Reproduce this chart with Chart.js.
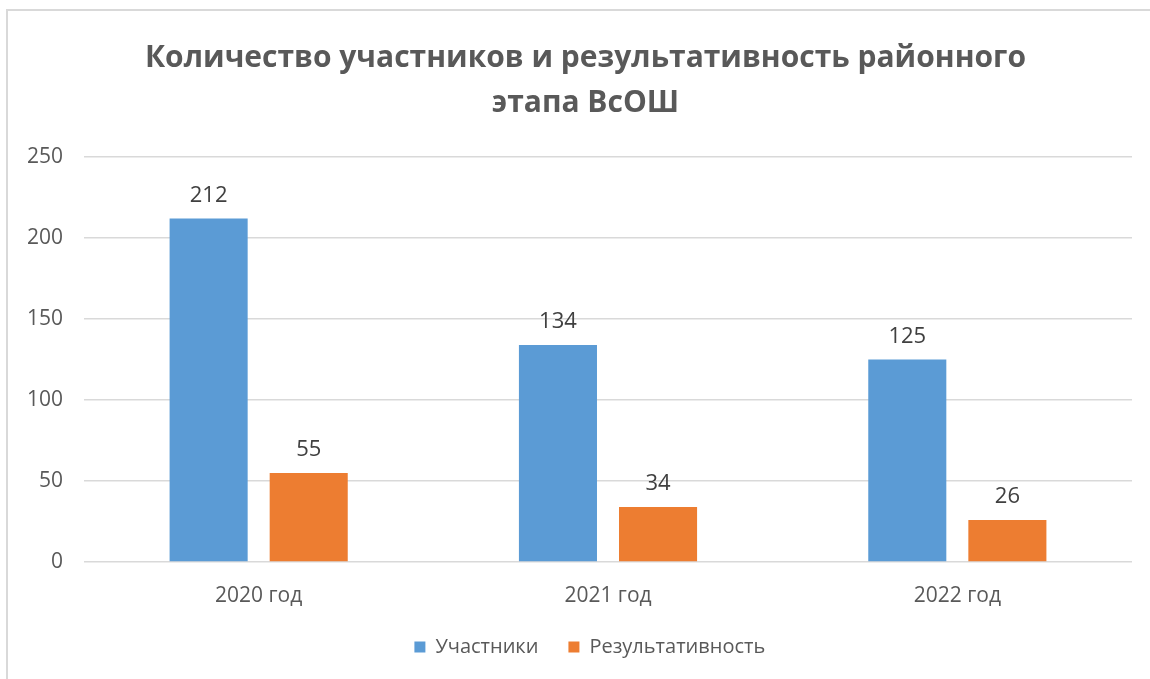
<!DOCTYPE html>
<html>
<head>
<meta charset="utf-8">
<script src="https://cdn.jsdelivr.net/npm/chart.js@4"></script>
<style>
    body { margin: 0; background: #fff; }
    #frame { position: absolute; left: 6px; top: 9px; right: -10px; bottom: -10px; border-top: 2px solid #d9d9d9; border-left: 2px solid #d9d9d9; }
    #wrap { position: absolute; left: 0; top: 0; width: 1150px; height: 679px; }
</style>
</head>
<body>
<div id="frame"></div>
<div id="wrap"><canvas id="olympChart"></canvas></div>
<script>
// Years and series values
const years = ['2020 год', '2021 год', '2022 год'];
const participants = [212, 134, 125];
const results = [55, 34, 26];
const yTicks = [0, 50, 100, 150, 200, 250];

// Draw value labels above each bar
const valueLabels = {
    id: 'valueLabels',
    afterDatasetsDraw(chart) {
        const ctx = chart.ctx;
        ctx.save();
        ctx.font = '22px "Open Sans"';
        ctx.fillStyle = '#404040';
        ctx.textAlign = 'center';
        ctx.textBaseline = 'bottom';
        chart.data.datasets.forEach((ds, i) => {
            chart.getDatasetMeta(i).data.forEach((bar, j) => {
                ctx.fillText(ds.data[j], bar.x, bar.y - 12);
            });
        });
        ctx.restore();
    }
};

const ctx = document.getElementById('olympChart').getContext('2d');
new Chart(ctx, {
    type: 'bar',
    data: {
        labels: years,
        datasets: [{
            label: 'Участники',
            data: participants,
            backgroundColor: '#5b9bd5'
        }, {
            label: 'Результативность',
            data: results,
            backgroundColor: '#ed7d31'
        }]
    },
    options: {
        responsive: true,
        maintainAspectRatio: false,
        animation: false,
        categoryPercentage: 0.573,
        barPercentage: 0.78,
        layout: { padding: { left: 0, right: 18, top: 0, bottom: 12 } },
        scales: {
            x: {
                grid: { display: false },
                border: { display: false },
                afterFit: function (scale) { scale.height = 45; },
                ticks: { color: '#595959', font: { family: 'Open Sans', size: 21 }, padding: 13 }
            },
            y: {
                min: 0,
                max: 250,
                afterBuildTicks: function (scale) {
                    scale.ticks = yTicks.map(v => ({ value: v }));
                },
                afterFit: function (scale) { scale.width = 84; },
                grid: { color: '#d9d9d9', lineWidth: 1.5, drawTicks: false },
                border: { display: false },
                ticks: { color: '#595959', font: { family: 'Open Sans', size: 21 }, padding: 21 }
            }
        },
        plugins: {
            title: {
                display: true,
                // leading spaces nudge the centred title to the right like the original
                text: ['     Количество участников и результативность районного', '     этапа ВсОШ'],
                color: '#595959',
                font: { family: 'Open Sans', size: 30, weight: 'bold', lineHeight: 1.5 },
                padding: { top: 36, bottom: 31 }
            },
            legend: {
                display: true,
                position: 'bottom',
                fullSize: false,
                labels: {
                    color: '#595959',
                    font: { family: 'Open Sans', size: 20 },
                    boxWidth: 11,
                    boxHeight: 11,
                    padding: 30,
                    // trailing spaces pull the legend a bit left of the plot centre
                    generateLabels: function (chart) {
                        const items = Chart.defaults.plugins.legend.labels.generateLabels(chart);
                        items[items.length - 1].text += '       ';
                        return items;
                    }
                }
            },
            tooltip: { enabled: false }
        }
    },
    plugins: [valueLabels]
});
</script>
</body>
</html>
